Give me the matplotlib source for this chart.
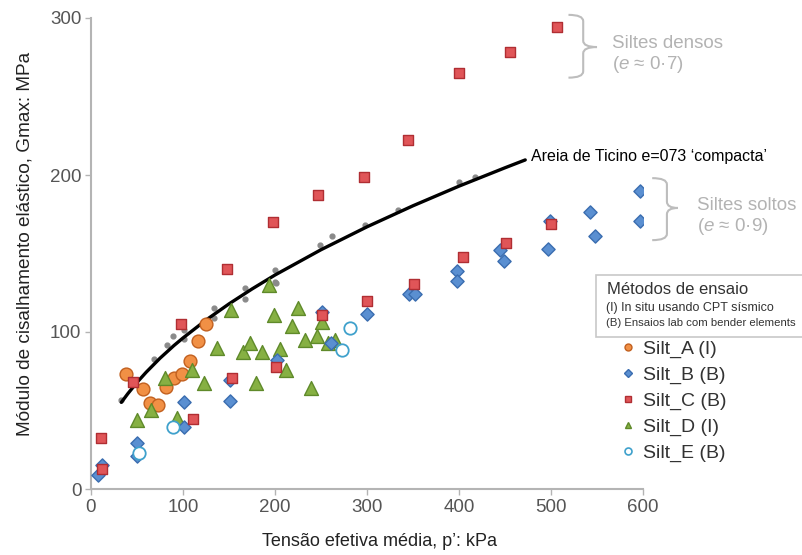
import matplotlib
matplotlib.use('Agg')
import matplotlib.pyplot as plt
from matplotlib.lines import Line2D
from matplotlib.path import Path
from matplotlib.patches import PathPatch, Rectangle

plt.rcParams['font.family'] = ['Liberation Sans', 'DejaVu Sans']
plt.rcParams['mathtext.fontset'] = 'custom'
plt.rcParams['mathtext.it'] = 'Liberation Sans:italic'
plt.rcParams['mathtext.rm'] = 'Liberation Sans'

# Silt_A (I) - in situ, orange circles
silt_a_p = [38, 56, 64, 73, 81.5, 90.5, 99, 107.5, 116, 124.5]
silt_a_g = [73.5, 64, 54.5, 53.5, 65, 71, 73.5, 81.5, 94, 105]

# Silt_B (B) - bender elements, blue diamonds
silt_b_p = [8, 12.5, 50, 50, 101, 101, 151, 151, 202, 251, 260.5, 300, 346, 352,
            397.5, 397.5, 445, 449, 497, 499, 542, 548, 597, 597]
silt_b_g = [9, 15, 29.5, 21, 55.5, 39.5, 56, 69.5, 82, 113, 93, 111.5, 124.5, 124.5,
            139, 132.5, 152.5, 145, 153, 171, 176.5, 161, 170.5, 190]

# Silt_C (B) - red squares
silt_c_p = [10.5, 11.5, 45.5, 97.5, 110.5, 147.5, 153, 197.5, 201.5, 247, 251.5,
            297, 300, 345, 351, 400, 404, 451, 455, 500, 506]
silt_c_g = [32.5, 13, 68, 105, 44.5, 140, 71, 170, 78, 187, 111,
            199, 120, 222.5, 130.5, 265, 147.5, 157, 278.5, 168.5, 294]

# Silt_D (I) - green triangles
silt_d_p = [50.5, 65, 80.5, 94, 109.5, 123, 137.5, 152, 165.5, 173, 179.5, 185.5,
            193, 199, 205.5, 212.5, 219, 225.5, 232.5, 239, 245.5, 251.5, 258, 265]
silt_d_g = [44, 50.5, 71, 45, 75.5, 67.5, 90, 114, 87.5, 93, 67.5, 87,
            130, 111, 89, 75.5, 104, 115, 95, 64.5, 97.5, 106.5, 93, 95]

# Silt_E (B) - open circles
silt_e_p = [52, 89.5, 272.5, 281]
silt_e_g = [23, 39.5, 88.5, 102.5]

# Ticino sand test points (small grey dots)
ticino_p = [33, 68, 83, 89.5, 101, 101, 133.5, 133.5, 167.5, 167.5, 200, 200, 201,
            249, 262, 298, 334, 400, 417]
ticino_g = [57, 83, 92, 97.5, 95.5, 101, 115, 109, 128, 121, 139.5, 132, 131.5,
            155.5, 161, 168, 178, 195.5, 199]

# Ticino sand reference curve
curve_p = [33, 40, 50, 60, 75, 90, 100, 125, 150, 175, 200, 250, 300, 350, 400, 450, 472]
curve_g = [55.2, 60.7, 67.9, 74.4, 83.3, 91.3, 96.2, 107.6, 117.9, 127.4, 136.3,
           152.4, 167, 180.4, 192.9, 204.6, 209.6]

x_ticks = [0, 100, 200, 300, 400, 500, 600]
y_ticks = [0, 100, 200, 300]

fig = plt.figure(figsize=(8.03, 5.55), dpi=100)
ax = fig.add_axes([91 / 803, 1 - 489 / 555, 552 / 803, 471 / 555])
ax.set_xlim(0, 600)
ax.set_ylim(0, 300)

ax.plot(curve_p, curve_g, color='black', lw=2.4, zorder=2, solid_capstyle='round')
ax.scatter(ticino_p, ticino_g, s=12, color='#8a8a8a', zorder=1)

ax.scatter(silt_a_p, silt_a_g, s=85, marker='o', facecolor='#f19045', edgecolor='#c2601f', lw=1.0, zorder=3)
ax.scatter(silt_d_p, silt_d_g, s=100, marker='^', facecolor='#86b043', edgecolor='#5f8a2a', lw=1.0, zorder=3)
ax.scatter(silt_b_p, silt_b_g, s=45, marker='D', facecolor='#5a8fd1', edgecolor='#3a6db0', lw=1.0, zorder=3)
ax.scatter(silt_c_p, silt_c_g, s=62, marker='s', facecolor='#e05558', edgecolor='#b02e33', lw=1.0, zorder=4)
ax.scatter(silt_e_p, silt_e_g, s=80, marker='o', facecolor='white', edgecolor='#3fa1cc', lw=1.3, zorder=3)

for side in ['top', 'right']:
    ax.spines[side].set_visible(False)
for side in ['left', 'bottom']:
    ax.spines[side].set_color('#b4b4b4')
    ax.spines[side].set_linewidth(1.5)
ax.set_xticks(x_ticks)
ax.set_yticks(y_ticks)
ax.tick_params(direction='out', length=4, width=1, color='#b4b4b4',
               labelcolor='#555555', labelsize=13.5, pad=3)

fig.text(380 / 803, 1 - 541 / 555, 'Tensão efetiva média, p’: kPa', ha='center', va='center',
         fontsize=13, color='#222222')
fig.text(25 / 803, 1 - 244 / 555, 'Módulo de cisalhamento elástico, Gmax: MPa', ha='center',
         va='center', rotation=90, fontsize=13.7, color='#222222')

ax.text(478, 211.5, 'Areia de Ticino e=073 ‘compacta’', ha='left', va='center',
        fontsize=11.5, color='black', clip_on=False)


def brace(x, y_top, y_bot, y_mid, w, tip, r):
    verts = [(x - w, y_top), (x, y_top), (x, y_top - r),
             (x, y_mid + r), (x, y_mid), (x + tip, y_mid),
             (x, y_mid), (x, y_mid - r),
             (x, y_bot + r), (x, y_bot), (x - w, y_bot)]
    codes = [Path.MOVETO, Path.CURVE3, Path.CURVE3,
             Path.LINETO, Path.CURVE3, Path.CURVE3,
             Path.CURVE3, Path.CURVE3,
             Path.LINETO, Path.CURVE3, Path.CURVE3]
    ax.add_patch(PathPatch(Path(verts, codes), fill=False, edgecolor='#bdbdbd',
                           lw=1.5, clip_on=False))


grey_txt = '#b3b3b3'
brace(535, 302, 262, 281.5, 16, 15, 4)
ax.text(566, 283.5, 'Siltes densos', fontsize=13.5, color=grey_txt, va='center', clip_on=False)
ax.text(566, 270.5, '($e$ ≈ 0·7)', fontsize=13.5, color=grey_txt, va='center', clip_on=False)
brace(626, 198, 158.5, 179, 16, 12, 4)
ax.text(659, 180.5, 'Siltes soltos', fontsize=13.5, color=grey_txt, va='center', clip_on=False)
ax.text(659, 167.5, '($e$ ≈ 0·9)', fontsize=13.5, color=grey_txt, va='center', clip_on=False)

# box with the test method key
fig.patches.append(Rectangle((596 / 803, 1 - 337 / 555), 220 / 803, 62 / 555,
                             transform=fig.transFigure, facecolor='white',
                             edgecolor='#c8c8c8', lw=1.2, zorder=5))
fig.text(607 / 803, 1 - 290 / 555, 'Métodos de ensaio', fontsize=12, color='#333333',
         va='center', zorder=6)
fig.text(606 / 803, 1 - 308 / 555, '(I) In situ usando CPT sísmico', fontsize=9, color='#333333',
         va='center', zorder=6)
fig.text(606 / 803, 1 - 323 / 555, '(B) Ensaios lab com bender elements', fontsize=8.2,
         color='#333333', va='center', zorder=6)

handles = [
    Line2D([], [], ls='none', marker='o', ms=5, mfc='#f19045', mec='#c2601f'),
    Line2D([], [], ls='none', marker='D', ms=4, mfc='#5a8fd1', mec='#3a6db0'),
    Line2D([], [], ls='none', marker='s', ms=5, mfc='#e05558', mec='#b02e33'),
    Line2D([], [], ls='none', marker='^', ms=5, mfc='#86b043', mec='#5f8a2a'),
    Line2D([], [], ls='none', marker='o', ms=5, mfc='white', mec='#3fa1cc', mew=1.2),
]
labels = ['Silt_A (I)', 'Silt_B (B)', 'Silt_C (B)', 'Silt_D (I)', 'Silt_E (B)']
fig.legend(handles, labels, loc='upper left', bbox_to_anchor=(620 / 803, 1 - 340 / 555),
           frameon=False, fontsize=14, labelcolor='#333333', handlelength=0.8,
           handletextpad=0.4, labelspacing=0.43, borderpad=0, borderaxespad=0)

fig.savefig('out.png', dpi=100)
